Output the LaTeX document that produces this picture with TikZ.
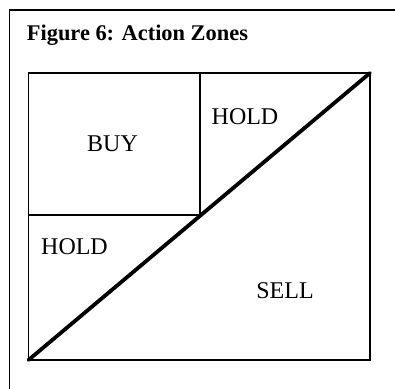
\documentclass[tikz,border=0pt]{standalone}
\usepackage{fontspec}
\setmainfont{Liberation Serif}
\begin{document}
\begin{tikzpicture}[x=0.5pt,y=-0.5pt,
  frame/.style={line width=0.8pt,black},
  boxline/.style={line width=0.8pt,black},
  divider/.style={line width=1.4pt,black},
  diagline/.style={line width=1.9pt,black,line cap=round},
  zone/.style={font=\fontsize{12}{14}\selectfont,anchor=base,inner sep=0pt},
  title/.style={font=\fontsize{11.2}{13}\selectfont\bfseries,anchor=base west,inner sep=0pt}]
\useasboundingbox (0,0) rectangle (395,389);
% outer frame (only top and left visible)
\draw[frame] (9.5,389) -- (9.5,10) -- (395,10);
\node[title] (ttl) at (26.5,41) {Figure 6: Action Zones};
% inner box
\coordinate (tl) at (28.5,73);
\coordinate (br) at (370,360);
\coordinate (bl) at (28.5,360);
\coordinate (tr) at (370,73);
\coordinate (mt) at (200,73);
\coordinate (mm) at (200,215);
\coordinate (ml) at (28.5,215);
\draw[boxline] (tl) rectangle (br);
\draw[divider] (mt) -- (mm);
\draw[line width=1.1pt] (ml) -- (mm);
\draw[diagline] (bl) -- (tr);
\node[zone] (buy) at (112.5,152) {BUY};
\node[zone] (hold1) at (245,125) {HOLD};
\node[zone] (hold2) at (74.5,255) {HOLD};
\node[zone] (sell) at (285,298) {SELL};
\end{tikzpicture}
\end{document}
